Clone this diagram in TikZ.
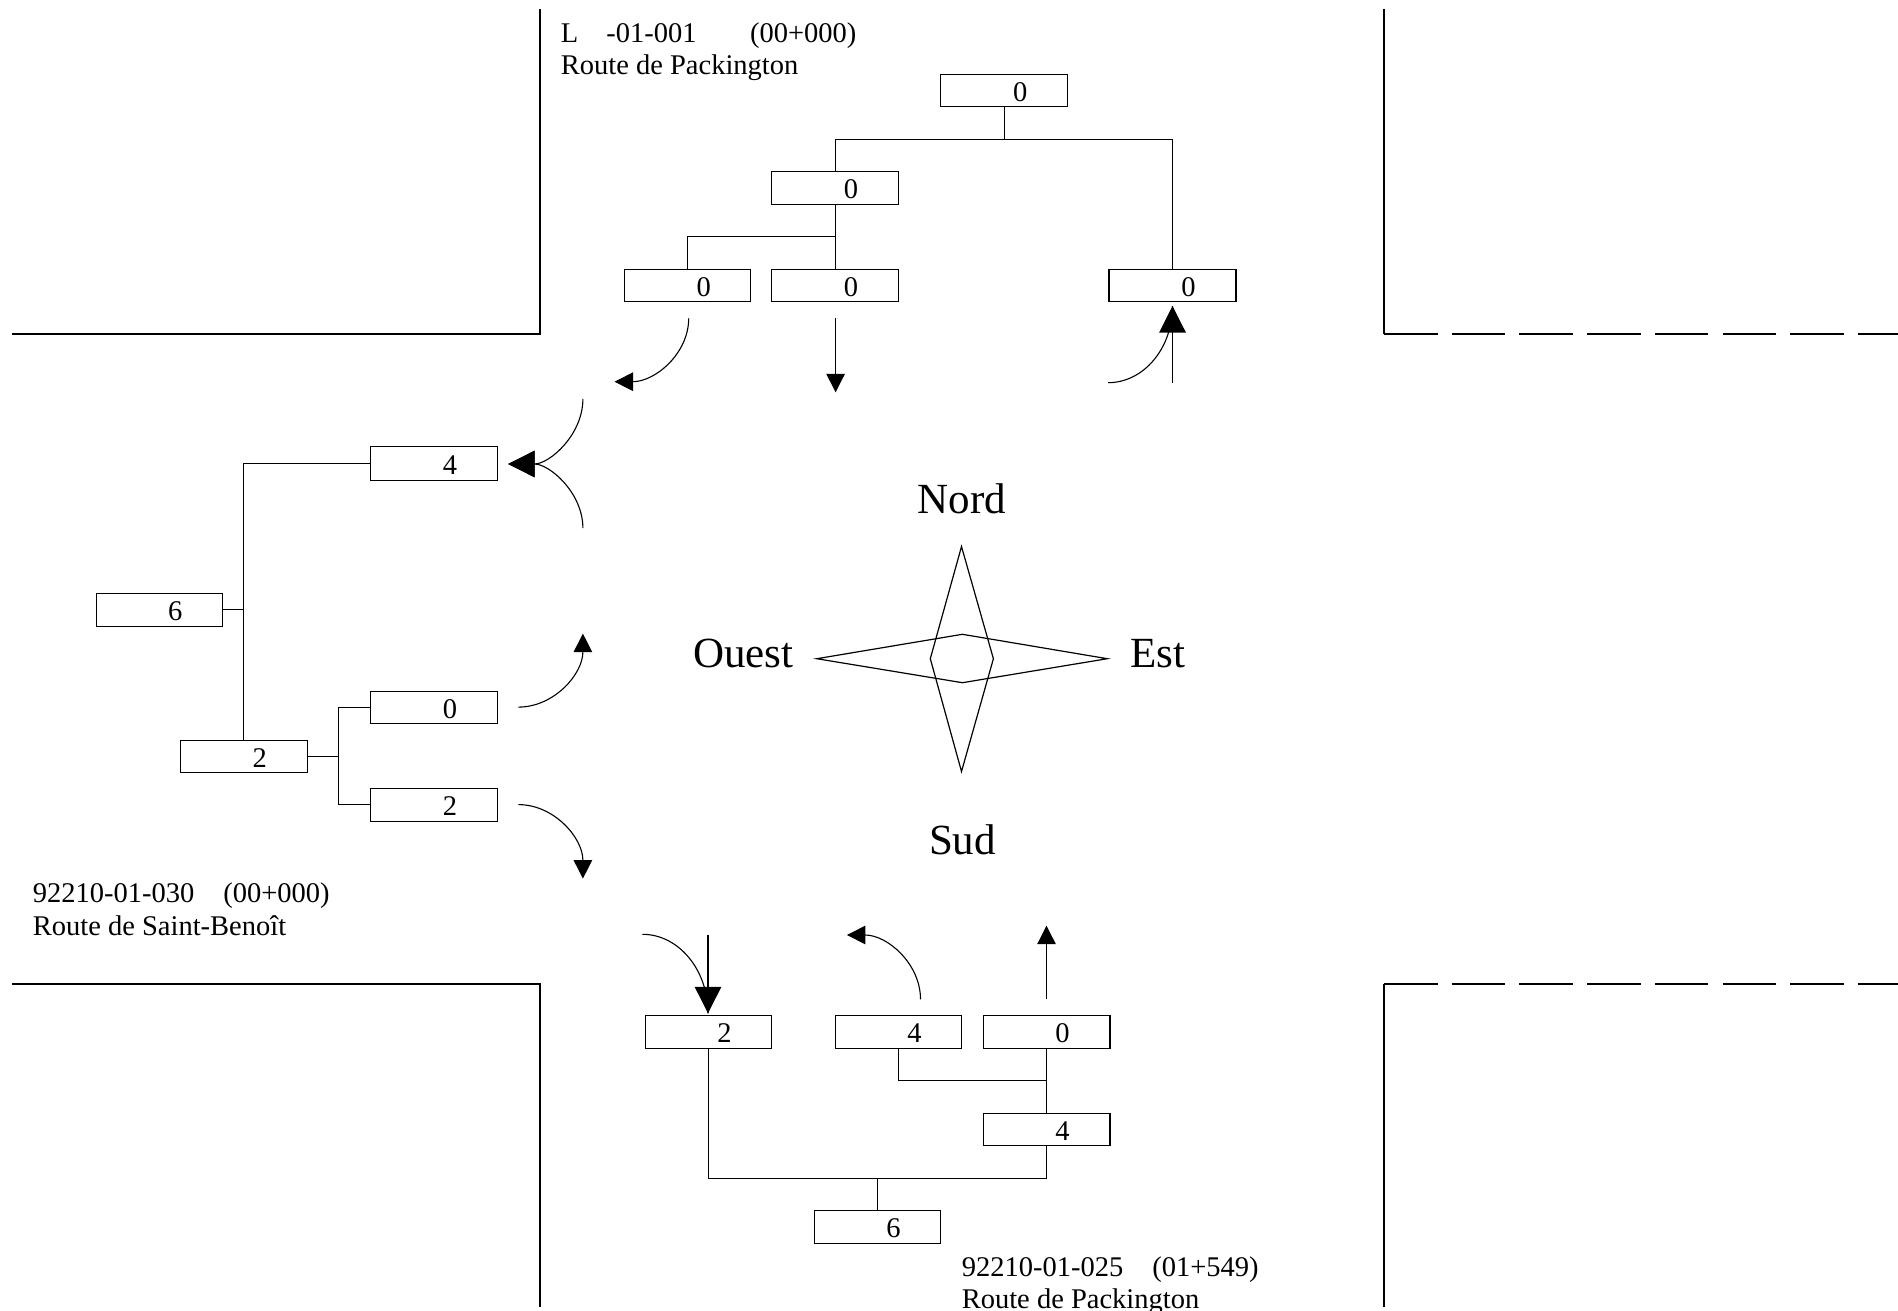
\documentclass[tikz,border=0pt]{standalone}
\usepackage{fontspec}
\setmainfont{Liberation Serif}
\usetikzlibrary{arrows.meta}
\tikzset{
  road/.style={line width=2pt,line join=miter},
  roaddash/.style={road,dash pattern=on 53.5pt off 14.2pt},
  link/.style={line width=1.2pt},
  flow/.style={line width=1.1pt},
  star/.style={line width=1.2pt,line join=miter},
  countbox/.style={draw,line width=1.2pt,inner sep=0pt,outer sep=0pt,text height=21.7pt,text depth=0pt,font=\fontsize{28.5}{32}\selectfont},
  routelabel/.style={anchor=base west,inner sep=0pt,font=\fontsize{28.5}{32}\selectfont},
  compasslabel/.style={inner sep=0pt,font=\fontsize{43}{50}\selectfont},
  small head/.style={-{Triangle[length=18.5pt,width=18.5pt]}},
  big head/.style={-{Triangle[length=26.5pt,width=26.5pt]}}
}
\newcommand{\countnode}[6]{%
  \node[countbox,minimum width={(#4-#2)*1pt},minimum height={(#5-#3)*1pt}] (#1)
    at ({(#2+#4)/2},{(#3+#5)/2}) {\hspace*{32pt}#6};}
\begin{document}
\begin{tikzpicture}[x=1pt,y=-1pt]
\useasboundingbox (0,0) rectangle (1898,1311);
\clip (0,0) rectangle (1898,1311);

% Roads
\coordinate (nwA) at (540.4,9.5);
\coordinate (nwC) at (540.4,333.7);
\coordinate (nwB) at (12,333.7);
\coordinate (swA) at (12,984);
\coordinate (swC) at (540.4,984);
\coordinate (swB) at (540.4,1307);
\coordinate (neA) at (1384,9.5);
\coordinate (neC) at (1384,333.7);
\coordinate (neB) at (1898,333.7);
\coordinate (seA) at (1384,1307);
\coordinate (seC) at (1384,984);
\coordinate (seB) at (1898,984);
\draw[road] (nwA) -- (nwC) -- (nwB);
\draw[road] (swA) -- (swC) -- (swB);
\draw[road] (neA) -- (neC);
\draw[road] (seA) -- (seC);
\draw[roaddash] (neC) -- (neB);
\draw[roaddash] (seC) -- (seB);

% North group
\countnode{ntop}{940.7}{74.7}{1067.7}{106.7}{0}
\countnode{nmid}{771.6}{171.3}{898.6}{204.3}{0}
\countnode{nleft}{624.7}{269.3}{750.7}{301.7}{0}
\countnode{nthru}{771.6}{269.3}{898.6}{301.7}{0}
\countnode{nright}{1109}{269.3}{1236}{301.7}{0}
\coordinate (nj) at (ntop.south |- 0,139.3);
\coordinate (njb) at (nmid.south |- 0,236.3);
\draw[link] (ntop.south) -- (nj);
\draw[link] (nmid.north) |- (nj);
\draw[link] (nright.north) |- (nj);
\draw[link] (nmid.south) -- (nthru.north);
\draw[link] (nleft.north) |- (njb);

\coordinate (na1) at (688.7,318.3);
\coordinate (na1t) at (614.5,381.7);
\draw[flow,small head] (na1) .. controls (688.7,353.3) and (655.5,381.7) .. (na1t);
\coordinate (na2) at (835.6,318.3);
\coordinate (na2t) at (835.6,392.3);
\draw[flow,small head] (na2) -- (na2t);
\coordinate (na3) at (1172.5,382.7);
\coordinate (na3t) at (1172.5,306);
\draw[flow,big head] (na3) -- (na3t);
\coordinate (na4) at (1108,382.7);
\draw[flow] (na4) .. controls (1143.6,382.7) and (1172.5,348.4) .. (na3t);

% West group
\countnode{wtop}{370.2}{446.7}{497.6}{480.3}{4}
\countnode{wroot}{96.3}{593.2}{222.4}{626.4}{6}
\countnode{wmid}{180.4}{740.4}{307.3}{772.1}{2}
\countnode{wa}{370.2}{691.4}{497.6}{723.2}{0}
\countnode{wb}{370.2}{788.2}{497.6}{821.4}{2}
\coordinate (wj) at (wmid.north |- wroot.east);
\draw[link] (wroot.east) -- (wj);
\draw[link] (wmid.north) |- (wtop.west);
\coordinate (wk) at (338.8,0 |- wmid.east);
\draw[link] (wmid.east) -- (wk);
\draw[link] (wa.west) -| (wk);
\draw[link] (wb.west) -| (wk);

\coordinate (wt) at (508.2,464);
\coordinate (wa1) at (582.9,398.9);
\coordinate (wa2) at (582.9,528.2);
\draw[flow,big head] (wa1) .. controls (582.9,434.9) and (549.5,464) .. (wt);
\draw[flow,big head] (wa2) .. controls (582.9,492.7) and (549.5,464) .. (wt);
\coordinate (wa3) at (518.4,707.1);
\coordinate (wa3t) at (582.9,633.6);
\draw[flow,small head] (wa3) .. controls (554,707.1) and (582.9,674.2) .. (wa3t);
\coordinate (wa4) at (518.4,804.6);
\coordinate (wa4t) at (582.9,878.6);
\draw[flow,small head] (wa4) .. controls (554,804.6) and (582.9,837.7) .. (wa4t);

% South group
\countnode{sleft}{645.5}{1015.3}{771.4}{1048.3}{2}
\countnode{sturn}{835.3}{1015.3}{961.6}{1048.3}{4}
\countnode{sthru}{983.1}{1015.3}{1109.9}{1048.3}{0}
\countnode{smid}{983.1}{1113.3}{1109.9}{1145.7}{4}
\countnode{sroot}{814.3}{1210.3}{940.6}{1243.3}{6}
\coordinate (sj) at (sroot.north |- 0,1178.3);
\coordinate (sk) at (sthru.south |- 0,1080.3);
\coordinate (sturnb) at (898.7,0 |- sturn.south);
\draw[link] (sroot.north) -- (sj);
\draw[link] (sleft.south) |- (sj);
\draw[link] (smid.south) |- (sj);
\draw[link] (sthru.south) -- (smid.north);
\draw[link] (sturnb) |- (sk);

\coordinate (sa1) at (708,935);
\coordinate (sa1t) at (708,1013.3);
\draw[flow,big head] (sa1) -- (sa1t);
\coordinate (sa2) at (642.4,934.3);
\draw[flow] (sa2) .. controls (678.6,934.3) and (708,969.7) .. (sa1t);
\coordinate (sa3) at (920.5,999.3);
\coordinate (sa3t) at (846.9,935);
\draw[flow,small head] (sa3) .. controls (920.5,963.8) and (887.5,935) .. (sa3t);
\coordinate (sa4) at (1046.5,999.3);
\coordinate (sa4t) at (1046.5,925.7);
\draw[flow,small head] (sa4) -- (sa4t);

% Compass
\draw[star] (961.5,546.5) -- (993.4,658.7) -- (961.5,771.5) -- (930.3,658.7) -- cycle;
\draw[star] (816.8,658.7) -- (962.4,634.3) -- (1107.3,658.7) -- (962.4,682.7) -- cycle;
\node[compasslabel,anchor=base] (nord) at (961.8,513.9) {Nord};
\node[compasslabel,anchor=base] (sud) at (962.5,854.5) {Sud};
\node[compasslabel,anchor=base west] (ouest) at (692.8,667.9) {Ouest};
\node[compasslabel,anchor=base west] (est) at (1130,667.9) {Est};

% Route labels
\node[routelabel] (l1a) at (560.7,42.9) {L\hspace{28pt}-01-001\hspace{53.5pt}(00+000)};
\node[routelabel] (l1b) at (560.7,74.5) {Route de Packington};
\node[routelabel] (l2a) at (32.7,902.4) {92210-01-030\hspace{29pt}(00+000)};
\node[routelabel] (l2b) at (32.7,935.2) {Route de Saint-Benoît};
\node[routelabel] (l3a) at (961.6,1276.6) {92210-01-025\hspace{29pt}(01+549)};
\node[routelabel] (l3b) at (961.6,1308.5) {Route de Packington};
\end{tikzpicture}
\end{document}
